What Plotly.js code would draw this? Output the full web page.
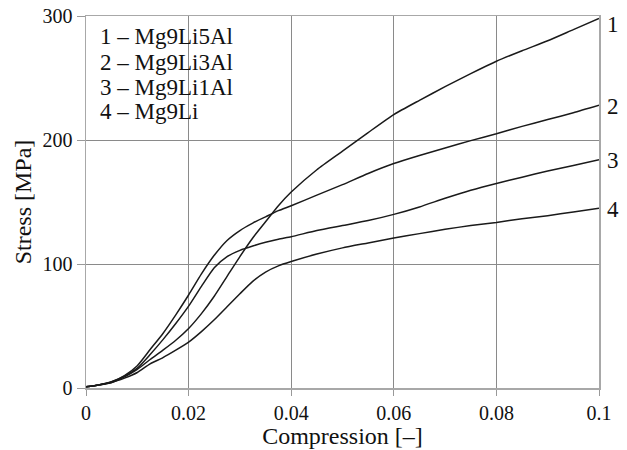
<!DOCTYPE html>
<html><head><meta charset="utf-8">
<script src="https://cdn.plot.ly/plotly-3.0.1.min.js"></script>
<style>
html,body{margin:0;padding:0;background:#fff}
#chart svg text{font-family:"Liberation Serif","Times New Roman",Times,serif !important;}
</style>
</head><body><div id="chart" style="width:627px;height:450px"></div>
<script>
const seriesNames = ['Mg9Li5Al', 'Mg9Li3Al', 'Mg9Li1Al', 'Mg9Li'];
const strain = [0,0.0025,0.005,0.0075,0.01,0.0125,0.015,0.0175,0.02,0.0225,0.025,0.0275,0.03,0.0325,0.035,0.0375,0.04,0.045,0.05,0.055,0.06,0.065,0.07,0.075,0.08,0.085,0.09,0.095,0.1];
const stress1 = [1,2.5,4.5,9,15,23,30.5,38.5,48,60,74,90,106,121,134,147,158,176,191,206,220.5,232,243,253.5,263.5,272,280,289,298];
const stress2 = [1,2.5,5,10,18,31,44,59,75,92,107,119,127,133,138,143,147,155.5,164,173,181,187.5,193.5,199.5,205,211,216.5,222,228];
const stress3 = [1,2.5,5,9.5,16,27,39,52,66,82,97,106,111,114.5,117.5,120,122,127,131,135,140,146,153,159.5,165,170,175,179.5,184];
const stress4 = [1,2.5,4.5,8,12.5,19.5,24.5,30.5,37,45.5,55,65.5,76,86,93.5,98.5,102,108,113,117,121,124.5,128,131,133.5,136.5,139,142,145];
const xTickVals = [0, 0.02, 0.04, 0.06, 0.08, 0.1];
const xTickText = ['0', '0.02', '0.04', '0.06', '0.08', '0.1'];
const yTickVals = [0, 100, 200, 300];
const yTickText = ['0', '100', '200', '300'];
const allStress = [stress1, stress2, stress3, stress4];

const FONT = 'Liberation Serif';
const traces = allStress.map((ys, i) => ({
  type: 'scatter', mode: 'lines', x: strain, y: ys, name: seriesNames[i],
  line: {color: '#1a1a1a', width: 1.5, shape: 'spline', smoothing: 0.6},
  showlegend: false, hoverinfo: 'skip'
}));

const legendY = [0.944, 0.876, 0.809, 0.742];
const annotations = [];
seriesNames.forEach((n, i) => {
  annotations.push({xref: 'paper', yref: 'paper', x: 0.024, y: legendY[i], xanchor: 'left', yanchor: 'middle',
    text: (i + 1) + ' – ' + n, showarrow: false, font: {family: FONT, size: 23, color: '#111'}});
  const ys = allStress[i];
  annotations.push({xref: 'x', yref: 'y', x: strain[strain.length - 1], y: ys[ys.length - 1],
    xanchor: 'left', yanchor: 'middle', xshift: 6, yshift: i === 0 ? -6 : -1,
    text: String(i + 1), showarrow: false, font: {family: FONT, size: 23, color: '#111'}});
});

const layout = {
  width: 627, height: 450,
  margin: {l: 86, r: 28, t: 16, b: 62},
  paper_bgcolor: '#fff', plot_bgcolor: '#fff',
  font: {family: FONT, color: '#111', size: 20},
  xaxis: {range: [0, 0.1], tickvals: xTickVals, ticktext: xTickText,
    showline: true, mirror: true, linecolor: '#a8a8a8', linewidth: 1.5,
    showgrid: true, gridcolor: '#8a8a8a', gridwidth: 1, zeroline: false,
    ticks: 'outside', ticklen: 6, tickcolor: '#999', tickfont: {family: FONT, size: 20, color: '#111'},
    title: {text: 'Compression [–]', font: {family: FONT, size: 24, color: '#111'}, standoff: 4}},
  yaxis: {range: [0, 300], tickvals: yTickVals, ticktext: yTickText,
    showline: true, mirror: true, linecolor: '#a8a8a8', linewidth: 1.5,
    showgrid: true, gridcolor: '#8a8a8a', gridwidth: 1, zeroline: false,
    ticks: 'outside', ticklen: 8, tickcolor: '#999', tickfont: {family: FONT, size: 20, color: '#111'},
    title: {text: 'Stress [MPa]', font: {family: FONT, size: 24, color: '#111'}, standoff: 4}},
  shapes: [{type: 'rect', xref: 'paper', yref: 'paper', x0: 0.003, x1: 0.30, y0: 0.684, y1: 0.985,
    fillcolor: '#fff', line: {width: 0}, layer: 'between'}],
  annotations: annotations
};
Plotly.newPlot('chart', traces, layout, {staticPlot: true, displayModeBar: false});
</script></body></html>
